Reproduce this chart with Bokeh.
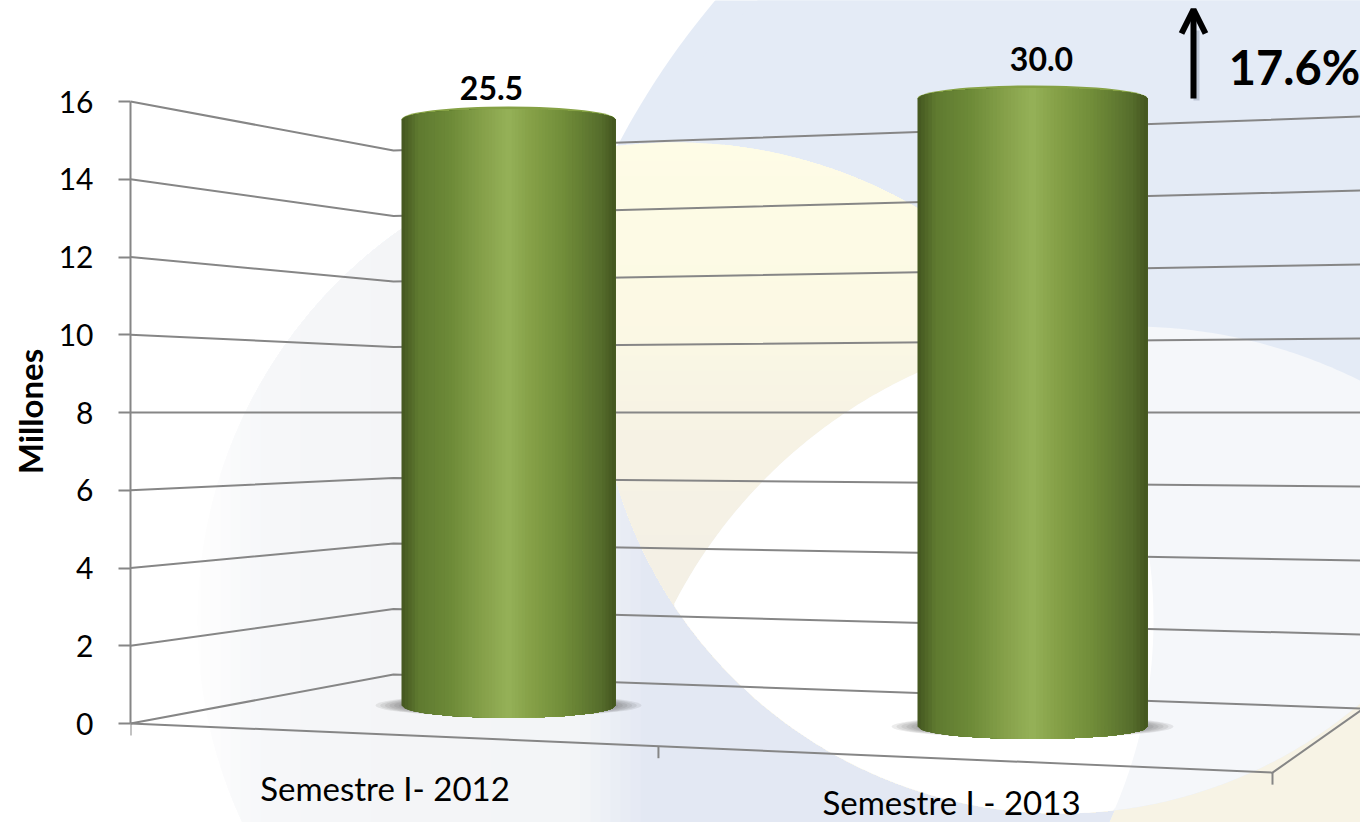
from bokeh.plotting import figure
from bokeh.embed import file_html
from bokeh.resources import INLINE
from bokeh.models import Range1d, FixedTicker, Arrow, OpenHead
from bokeh.core.properties import value
import math

# ---- data ----
categories = ["Semestre I- 2012", "Semestre I - 2013"]
bar_values = [25.5, 30.0]
bar_labels = ["25.5", "30.0"]
y_ticks = [0, 2, 4, 6, 8, 10, 12, 14, 16]
y_max = 16
y_title = "Millones"
change_label = "17.6%"

# ---- layout (picture pixels) ----
W, H = 1360, 822
LEFT = 130
PX_PER_UNIT = 38.875
Y0_PX = 723
FONT = "Lato"
GRID = "#868686"


def DY(px):
    return (Y0_PX - px) / PX_PER_UNIT


# perspective: every depth plane scales the value axis about the value 8
def wall(v, k):
    return 8 + (v - 8) * k


K_FRONT_L, K_CORNER, K_BACK_R, K_FRONT_R = 1.0, 0.8424, 0.952, 1.158
X_CORNER, X_BACK_R, X_FRONT_R = 393, 1363, 1272
BAR_CX = [508, 1032]
BAR_HALF = [107, 115]
BAR_K = [0.942, 1.01]
BAR_RY = [13, 13]
BAR_LABEL_X = [491, 1041]
BAR_LABEL_Y = [87, 58]

p = figure(width=W, height=H, output_backend="svg", toolbar_location=None,
           x_range=Range1d(LEFT, W),
           y_range=Range1d(DY(H), DY(0)),
           x_axis_location=None, min_border_left=LEFT, min_border_right=0,
           min_border_top=0, min_border_bottom=0, outline_line_color=None,
           background_fill_color="white", border_fill_color="white")
p.grid.visible = False


# ---- background helpers ----
def circle_pts(c, n=720):
    return [(c[0] + c[2] * math.cos(2 * math.pi * i / n),
             c[1] + c[2] * math.sin(2 * math.pi * i / n)) for i in range(n)]


def region(*cs):
    pts = []
    for i, c in enumerate(cs):
        for q in circle_pts(c):
            if all(math.hypot(q[0] - o[0], q[1] - o[1]) <= o[2]
                   for j, o in enumerate(cs) if j != i):
                pts.append(q)
    mx = sum(q[0] for q in pts) / len(pts)
    my = sum(q[1] for q in pts) / len(pts)
    return sorted(pts, key=lambda q: math.atan2(q[1] - my, q[0] - mx))


def clip(poly, axis, lim, sign=1):
    out = []
    for i in range(len(poly)):
        a, b = poly[i], poly[(i + 1) % len(poly)]
        ina, inb = sign * (a[axis] - lim) >= 0, sign * (b[axis] - lim) >= 0
        if ina:
            out.append(a)
        if ina != inb:
            t = (lim - a[axis]) / (b[axis] - a[axis])
            out.append((a[0] + t * (b[0] - a[0]), a[1] + t * (b[1] - a[1])))
    return out


def draw(poly, color):
    if poly:
        p.patch([q[0] for q in poly], [DY(q[1]) for q in poly],
                fill_color=color, line_color=None)


def mix(stops, t):
    for (t0, c0), (t1, c1) in zip(stops, stops[1:]):
        if t <= t1:
            f = 0 if t1 == t0 else max(0, (t - t0) / (t1 - t0))
            a = [int(c0[i:i + 2], 16) for i in (1, 3, 5)]
            b = [int(c1[i:i + 2], 16) for i in (1, 3, 5)]
            return "#%02x%02x%02x" % tuple(round(x + (y - x) * f) for x, y in zip(a, b))
    return stops[-1][1]


D_BLUE = (1330, 519, 805)
D_PALE = (675, 620, 478)
D_W = (1060, 350, 463)
D_U = (1130, 840, 514)
BLUE = "#e4ebf6"

draw(region(D_BLUE), BLUE)
draw([(1040, 350), (1400, 350), (1400, 850), (1040, 850)], "#f7f3e5")
draw(region(D_W), BLUE)

pale = region(D_PALE)
pale_stops = [(190, "#fefefe"), (260, "#f6f7f9"), (400, "#f4f5f7"), (575, "#f3f5f7"),
              (600, "#edf0f6"), (640, "#e3e8f3"), (1160, "#e3e8f3")]
for x in range(190, 700, 10):
    draw(clip(pale, 0, x), mix(pale_stops, x))

yellow = region(D_PALE, D_W)
yellow_top = clip(clip(pale, 0, 500), 1, 350, -1)
yellow_stops = [(130, "#fefce6"), (300, "#fcf9e4"), (400, "#f7f3e4"), (560, "#f4f0e5"), (830, "#f4f0e5")]
for y in range(130, 640, 15):
    c = mix(yellow_stops, y)
    draw(clip(yellow, 1, y), c)
    draw(clip(yellow_top, 1, y), c)

draw(region(D_W, D_U), "#f5f7fa")
draw(region(D_W, D_U, D_PALE), "#ffffff")

# ---- walls and floor ----
gx, gy = [], []
for v in y_ticks:
    gx.append([LEFT, X_CORNER, X_BACK_R])
    gy.append([wall(v, K_FRONT_L), wall(v, K_CORNER), wall(v, K_BACK_R)])
p.multi_line(gx, gy, line_color=GRID, line_width=2)

# floor front edge and right edge
p.line([LEFT, X_FRONT_R, X_BACK_R],
       [wall(0, K_FRONT_L), wall(0, K_FRONT_R), wall(0, K_BACK_R)],
       line_color=GRID, line_width=2)

# category ticks along the floor front edge
for t in (0, 0.4623, 1):
    x = LEFT + t * (X_FRONT_R - LEFT)
    y = wall(0, K_FRONT_L + t * (K_FRONT_R - K_FRONT_L))
    p.segment([x], [y], [x], [y - 12 / PX_PER_UNIT], line_color=GRID, line_width=2)

# ---- bars (shaded cylinders, cut at the axis maximum) ----
BAR_STOPS = [(0, "#43551f"), (.08, "#5f7a30"), (.23, "#6d8a38"), (.39, "#87a24b"),
             (.5, "#95b158"), (.6, "#86a148"), (.77, "#6f8b38"), (.93, "#566d2c"), (1, "#43551f")]

for val, cx, hw, k, ry, lab, lx, ly in zip(bar_values, BAR_CX, BAR_HALF, BAR_K, BAR_RY,
                                           bar_labels, BAR_LABEL_X, BAR_LABEL_Y):
    top = wall(min(val, y_max), k)
    base = wall(0, k)
    ryd = ry / PX_PER_UNIT

    # floor shadow
    for i in range(8):
        f = 1 - i * .035
        p.ellipse([cx], [base], width=[2 * (hw + 26) * f], height=[1.7 * ryd * f],
                  fill_color="#555555", fill_alpha=.11, line_color=None)

    # cap
    p.ellipse([cx], [top], width=[2 * hw], height=[2 * ryd],
              fill_color="#85a144", line_color=None)

    n = 64
    xs = [cx - hw + 2 * hw * i / n for i in range(n + 1)]
    for i in range(n):
        sub = xs[i:]
        ytop = [top + .8 * ryd * math.sqrt(max(0, 1 - ((x - cx) / hw) ** 2)) for x in sub]
        ybot = [base - .95 * ryd * math.sqrt(max(0, 1 - ((x - cx) / hw) ** 2)) for x in sub]
        p.patch(sub + sub[::-1], ytop + ybot[::-1],
                fill_color=mix(BAR_STOPS, (i + .5) / n), line_color=None)

    p.text([lx], [DY(ly)], text=[lab], text_font=value(FONT), text_font_style="bold",
           text_font_size="32px", text_color="black", text_align="center",
           text_baseline="middle")

# ---- category labels ----
p.text([384.5], [DY(787)], text=[categories[0]], text_font=value(FONT),
       text_font_size="33px", text_color="black", text_align="center", text_baseline="middle")
p.text([951], [DY(801)], text=[categories[1]], text_font=value(FONT),
       text_font_size="33px", text_color="black", text_align="center", text_baseline="middle")

# ---- change annotation ----
p.segment([1196], [DY(100)], [1196], [DY(30)], line_color="#8e98ac", line_width=6, line_alpha=.45)
p.add_layout(Arrow(end=OpenHead(size=24, line_width=6, line_color="black"),
                   x_start=1193, y_start=DY(98), x_end=1193, y_end=DY(9),
                   line_color="black", line_width=6))
p.text([1294], [DY(66)], text=[change_label], text_font=value(FONT), text_font_style="bold",
       text_font_size="47px", text_color="black", text_align="center", text_baseline="middle")

# ---- value axis ----
ax = p.yaxis[0]
ax.ticker = FixedTicker(ticks=y_ticks)
ax.bounds = (0, y_max)
ax.major_tick_in = 0
ax.major_tick_out = 12
ax.minor_tick_line_color = None
ax.axis_line_color = GRID
ax.axis_line_width = 2
ax.major_tick_line_color = GRID
ax.major_tick_line_width = 2
ax.major_label_text_font = FONT
ax.major_label_text_font_size = "30px"
ax.major_label_text_color = "black"
ax.major_label_standoff = 25
ax.axis_label = y_title
ax.axis_label_text_font = FONT
ax.axis_label_text_font_style = "bold"
ax.axis_label_text_font_size = "33px"
ax.axis_label_text_color = "black"
ax.axis_label_standoff = 6

open("out.html", "w").write(file_html(p, INLINE))
